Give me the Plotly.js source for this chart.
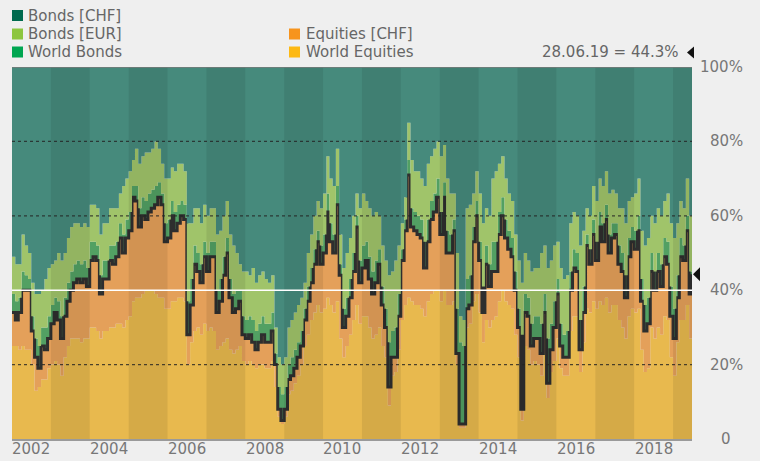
<!DOCTYPE html>
<html><head><meta charset="utf-8">
<script src="https://cdn.plot.ly/plotly-3.0.1.min.js"></script>
<style>html,body{margin:0;padding:0;background:#efefef;}#chart{width:760px;height:461px;}</style>
</head><body><div id="chart"></div>
<script>
// ---- data (percent of portfolio, monthly, Jan 2002 .. Jun 2019, last point 28.06.19) ----
const firstYear = 2002;
const monthCount = 210;
const lastDate = '2019-06-28';
const lastLabel = '28.06.19';

const worldEquities = [
25,25,24,25,24,24,20,13,14,16, 16,19,20,21,20,17,22,25,27,27, 27,26,27,27,30,30,29,27,29,29,
30,30,31,31,30,32,33,37,38,38, 39,40,40,40,39,38,38,35,35,37, 37,38,38,37,20,26,29,30,28,31,
29,30,29,24,25,26,27,24,23,24, 25,21,20,21,20,19,20,20,19,19, 21,14,6,4,6,12,13,15,17,20,
25,28,32,34,36,34,35,38,36,34, 37,27,22,25,28,32,36,31,33,33, 30,27,28,30,25,22,9,17,18,24,
32,36,38,37,36,36,35,33,37,39, 40,40,37,40,36,36,37,20,3,3, 30,31,37,39,34,26,32,30,32,33,
37,40,37,36,35,28,22,5,25,24, 20,21,20,17,23,11,18,21,27,19, 17,17,29,33,33,18,26,35,34,37,
35,37,36,38,34,36,36,32,30,27, 33,35,34,35,24,18,19,30,27,30, 28,33,32,22,17,26,32,32,36,27,
30];
const equitiesCHF = [
9,7,10,15,16,16,9,9,5,9, 8,8,11,13,12,10,11,12,13,15, 16,16,16,14,18,19,19,12,14,14,
18,17,18,23,20,22,23,28,26,19, 21,19,21,22,24,27,25,18,19,23, 19,20,22,22,8,10,18,15,14,18,
16,19,20,10,12,18,23,14,11,11, 12,7,7,7,6,5,6,8,7,7, 8,6,2,1,2,4,4,4,5,5,
7,9,10,13,17,13,15,23,17,16, 26,17,8,8,10,13,21,11,13,15, 13,12,14,17,11,8,5,5,4,9,
16,20,33,20,20,19,19,13,16,20, 21,25,18,25,14,14,19,3,1,1, 5,5,16,21,14,8,15,11,13,12,
18,20,17,15,14,12,8,3,9,9, 5,6,7,6,11,4,6,9,12,6, 5,5,11,13,12,6,8,17,13,18,
13,20,17,21,16,18,19,15,15,11, 16,18,17,21,13,11,12,15,13,15, 13,16,15,11,10,12,17,16,20,12,
14.3];
const worldBonds = [
5,5,4,5,4,3,4,5,6,5, 6,6,5,4,5,6,5,5,5,5, 5,5,5,5,5,4,4,5,5,5,
4,5,4,4,5,5,5,3,4,5, 5,5,5,5,5,4,3,5,5,4, 5,5,4,4,9,7,5,5,5,4,
5,4,4,6,6,5,4,5,5,5, 3,5,5,5,6,5,5,5,5,5, 5,3,6,7,6,4,5,5,4,4,
3,4,4,4,3,5,5,5,5,5, 5,3,5,5,5,5,3,6,6,5, 6,6,6,4,5,5,12,7,8,6,
3,3,4,5,5,5,5,7,6,5, 5,5,6,4,6,5,3,12,22,21, 8,8,4,4,5,7,5,6,8,8,
6,5,5,5,5,5,5,20,5,5, 6,6,6,8,5,12,7,7,4,6, 6,7,5,5,5,8,7,3,4,4,
5,4,5,4,5,4,3,5,5,6, 5,4,5,4,6,7,7,5,5,5, 6,5,6,8,8,6,5,4,4,6,
5];
const bondsEUR = [
10,10,9,10,8,7,9,12,14,10, 13,13,11,10,13,15,12,12,12,11, 10,10,10,11,10,10,10,11,10,10,
10,10,9,8,13,11,11,7,10,12, 11,13,11,11,12,9,8,12,11,9, 11,11,10,9,21,15,10,12,11,10,
10,9,9,15,13,11,10,12,13,10, 7,12,13,11,14,13,13,12,12,11, 10,7,8,8,8,10,10,10,10,9,
7,9,9,9,8,10,11,10,12,13, 10,8,11,12,11,10,6,14,14,11, 13,15,13,9,11,13,18,16,18,13,
7,6,10,13,11,12,11,15,15,12, 12,10,15,10,14,11,7,15,7,7, 19,19,9,8,13,17,10,13,17,19,
13,11,11,10,10,10,13,14,11,10, 14,13,13,19,13,19,17,15,10,15, 15,15,13,10,10,20,15,7,9,9,
11,9,10,9,11,9,8,10,12,14, 10,8,10,10,13,16,16,10,13,12, 13,10,13,17,19,14,10,10,10,15,
12.7];
const bondsCHF = [
51,53,53,45,48,50,58,61,61,60, 57,54,53,52,50,52,50,46,43,42, 42,43,42,43,37,37,38,45,42,42,
38,38,38,34,32,30,28,25,22,26, 24,23,23,22,20,22,26,30,30,27, 28,26,26,28,42,42,38,38,42,37,
40,38,38,45,44,40,36,45,48,50, 53,55,55,56,54,58,56,55,57,58, 56,70,78,80,78,70,68,66,64,62,
58,50,45,40,36,38,34,24,30,32, 22,45,54,50,46,40,34,38,34,36, 38,40,39,40,48,52,56,55,52,48,
42,35,15,25,28,28,30,32,26,24, 22,20,24,21,30,34,34,50,67,68, 38,37,34,28,34,42,38,40,30,28,
26,24,30,34,36,45,52,58,50,52, 55,54,54,50,48,54,52,48,47,54, 57,56,42,39,40,48,44,38,40,32,
36,30,32,28,34,33,34,38,38,42, 36,35,34,30,44,48,46,40,42,38, 40,36,34,42,46,42,36,38,30,40,
38];

const seriesNames  = ['World Equities','Equities [CHF]','World Bonds','Bonds [EUR]','Bonds [CHF]'];
const legendOrder  = ['Bonds [CHF]','Bonds [EUR]','World Bonds','Equities [CHF]','World Equities'];
const tickYears = ['2002','2004','2006','2008','2010','2012','2014','2016','2018'];
const yTickVals = [0,20,40,60,80,100];
const yTickText = ['0','20%','40%','60%','80%','100%'];

// ---- build ----
const dates = [];
for (let i = 0; i < monthCount; i++) {
  const y = firstYear + Math.floor(i / 12), m = i % 12 + 1;
  dates.push(y + '-' + String(m).padStart(2, '0') + '-01');
}
dates.push(lastDate);

const fillCol = {
  'World Equities':'#e8b94e', 'Equities [CHF]':'#e4a05a', 'World Bonds':'#52a063',
  'Bonds [EUR]':'#a0c46a', 'Bonds [CHF]':'#468a7c'
};
const legendCol = {
  'Bonds [CHF]':'#006a4e', 'Bonds [EUR]':'#8dc63f', 'World Bonds':'#00a651',
  'Equities [CHF]':'#f7941d', 'World Equities':'#fdb913'
};
const values = {
  'World Equities':worldEquities, 'Equities [CHF]':equitiesCHF, 'World Bonds':worldBonds,
  'Bonds [EUR]':bondsEUR, 'Bonds [CHF]':bondsCHF
};

const traces = seriesNames.map(n => ({
  type:'scatter', mode:'lines', name:n, x:dates, y:values[n], stackgroup:'one',
  fillcolor:fillCol[n],
  line: n === 'Equities [CHF]' ? {shape:'hv', color:'#2e2e2e', width:3} : {shape:'hv', width:0, color:fillCol[n]},
  hoverinfo:'skip'
}));

const last = dates.length - 1;
const lastTotal = worldEquities[last] + equitiesCHF[last];

const FONT = 'DejaVu Sans';
const shapes = [];
// alternate year bands
for (let y = firstYear + 1; y <= 2019; y += 2) {
  shapes.push({type:'rect', xref:'x', yref:'paper', x0:y + '-01-01', x1:(y === 2019 ? lastDate : (y + 1) + '-01-01'),
    y0:0, y1:1, fillcolor:'rgba(0,0,0,0.08)', line:{width:0}, layer:'above'});
}
[20,60,80].forEach(v => shapes.push({type:'line', xref:'paper', yref:'y', x0:0, x1:1, y0:v, y1:v,
  line:{color:'rgba(35,35,35,0.8)', width:1.3, dash:'3px,3px'}, layer:'above'}));
shapes.push({type:'line', xref:'paper', yref:'y', x0:0, x1:1, y0:40, y1:40, line:{color:'#ffffff', width:1.5}, layer:'above'});
shapes.push({type:'line', xref:'paper', yref:'y', x0:0, x1:1, y0:100, y1:100, line:{color:'#7a7a7a', width:1.5}, layer:'above'});
// current value marker on the right edge
shapes.push({type:'path', xref:'paper', yref:'y', xsizemode:'pixel', ysizemode:'pixel', xanchor:1, yanchor:lastTotal,
  path:'M 1 0 L 8 7 L 8 -7 Z', fillcolor:'#111', line:{width:0}, layer:'above'});
// marker next to the header value
shapes.push({type:'path', xref:'paper', yref:'paper', xsizemode:'pixel', ysizemode:'pixel', xanchor:0.99265, yanchor:1.0390,
  path:'M 0 0 L 7 6 L 7 -6 Z', fillcolor:'#111', line:{width:0}, layer:'above'});

const annotations = [];
// custom legend: col, row
const legendPos = {
  'Bonds [CHF]':[0,0], 'Bonds [EUR]':[0,1], 'World Bonds':[0,2],
  'Equities [CHF]':[1,1], 'World Equities':[1,2]
};
const colSq = [0, 0.40735], colTx = [0.0213, 0.4287], rowY = [1.1384, 1.0887, 1.0403];
legendOrder.forEach(n => {
  const [c, r] = legendPos[n];
  shapes.push({type:'rect', xref:'paper', yref:'paper', xsizemode:'pixel', ysizemode:'pixel',
    xanchor:colSq[c], yanchor:rowY[r], x0:0, x1:11, y0:-5.5, y1:5.5, fillcolor:legendCol[n], line:{width:0}});
  annotations.push({xref:'paper', yref:'paper', x:colTx[c], y:rowY[r], xanchor:'left', yanchor:'middle',
    text:n, showarrow:false, font:{family:FONT, size:15, color:'#666'}});
});
annotations.push({xref:'paper', yref:'paper', x:0.9838, y:1.0403, xanchor:'right', yanchor:'middle',
  text:lastLabel + ' = ' + lastTotal.toFixed(1) + '%', showarrow:false, font:{family:FONT, size:15, color:'#666'}});
// right-side y tick labels
yTickVals.forEach((v, i) => {
  annotations.push({xref:'paper', yref:'y', x:(v === 0 ? 1.0493 : 1.0779), y:v,
    xanchor:(v === 0 ? 'center' : 'right'), yanchor:'middle', text:yTickText[i], showarrow:false,
    font:{family:FONT, size:15, color:'#777'}});
});
// x tick labels (centred in their year)
tickYears.forEach(y => {
  annotations.push({xref:'x', yref:'paper', x:y + '-07-02', y:-0.027, xanchor:'center', yanchor:'middle',
    text:y, showarrow:false, font:{family:FONT, size:15, color:'#777'}});
});

const layout = {
  width:760, height:461, margin:{l:12, r:68, t:67, b:22},
  paper_bgcolor:'#efefef', plot_bgcolor:'#efefef', showlegend:false,
  xaxis:{type:'date', range:['2002-01-01', lastDate], showticklabels:false, ticks:'',
    showgrid:false, zeroline:false, showline:true, linecolor:'#9a9a9a', linewidth:2, fixedrange:true},
  yaxis:{range:[0,100], showgrid:false, zeroline:false, showticklabels:false, fixedrange:true},
  shapes:shapes, annotations:annotations
};

Plotly.newPlot('chart', traces, layout, {staticPlot:true, displayModeBar:false});
</script>
</body></html>
